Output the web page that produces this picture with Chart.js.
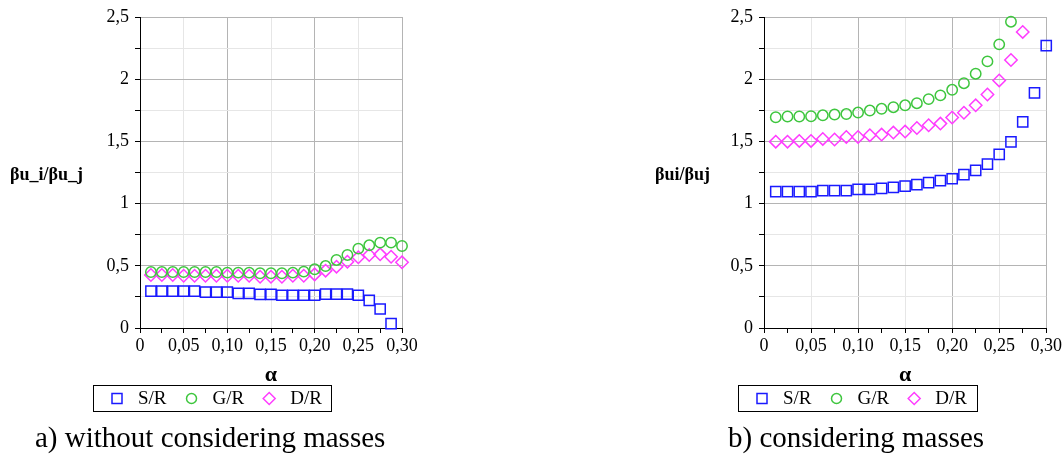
<!DOCTYPE html>
<html>
<head>
<meta charset="utf-8">
<script src="https://cdn.jsdelivr.net/npm/chart.js@4.4.1/dist/chart.umd.min.js"></script>
</head>
<body style="margin:0;background:#fff;width:1064px;height:457px;overflow:hidden;position:relative;font-family:'Liberation Serif'">
<div style="position:absolute;left:0px;top:0px"><canvas id="chartA" width="420" height="457"></canvas></div>
<div style="position:absolute;left:625px;top:0px"><canvas id="chartB" width="439" height="457"></canvas></div>
<script>
// alpha values (x)
var alphaValues = [0.0125, 0.025, 0.0375, 0.05, 0.0625, 0.075, 0.0875, 0.1, 0.1125, 0.125, 0.1375, 0.15,
                   0.1625, 0.175, 0.1875, 0.2, 0.2125, 0.225, 0.2375, 0.25, 0.2625, 0.275, 0.2875, 0.3];

// a) without considering masses
var noMassSR = [0.297, 0.297, 0.297, 0.297, 0.297, 0.289, 0.289, 0.289, 0.279, 0.279, 0.271, 0.271,
                0.263, 0.263, 0.263, 0.263, 0.273, 0.273, 0.273, 0.263, 0.222, 0.153, 0.035];
var noMassGR = [0.45, 0.45, 0.45, 0.45, 0.45, 0.45, 0.45, 0.445, 0.445, 0.445, 0.44, 0.44,
                0.44, 0.445, 0.453, 0.472, 0.498, 0.547, 0.587, 0.638, 0.665, 0.686, 0.686, 0.659];
var noMassDR = [0.426, 0.426, 0.426, 0.42, 0.42, 0.42, 0.42, 0.42, 0.42, 0.42, 0.412, 0.412,
                0.412, 0.42, 0.42, 0.431, 0.461, 0.493, 0.533, 0.568, 0.587, 0.592, 0.573, 0.528];

// b) considering masses
var massSR = [1.096, 1.096, 1.096, 1.096, 1.104, 1.104, 1.104, 1.114, 1.114, 1.122, 1.13, 1.141,
              1.152, 1.168, 1.184, 1.2, 1.233, 1.267, 1.318, 1.396, 1.496, 1.657, 1.89, 2.27];
var massGR = [1.694, 1.7, 1.7, 1.702, 1.71, 1.716, 1.72, 1.732, 1.748, 1.762, 1.775, 1.79,
              1.807, 1.84, 1.87, 1.915, 1.968, 2.044, 2.143, 2.28, 2.462];
var massDR = [1.498, 1.498, 1.504, 1.504, 1.52, 1.515, 1.536, 1.536, 1.55, 1.555, 1.571, 1.579,
              1.608, 1.63, 1.643, 1.692, 1.73, 1.79, 1.877, 1.99, 2.154, 2.38];

var seriesNames = ['S/R', 'G/R', 'D/R'];
var seriesColors = ['#1a1aff', '#3ec63e', '#ff3cff'];
var seriesStyles = ['rect', 'circle', 'rectRot'];
var seriesRadius = [7.2, 5.2, 6.2];

var serif = 'Liberation Serif';
Chart.defaults.font.family = serif;
Chart.defaults.color = '#000';

function toPoints(values) {
    var pts = [];
    for (var i = 0; i < values.length; i++) {
        pts.push({ x: alphaValues[i], y: values[i] });
    }
    return pts;
}

function makeDatasets(lists) {
    return lists.map(function(values, i) {
        return {
            label: seriesNames[i],
            data: toPoints(values),
            showLine: false,
            pointStyle: seriesStyles[i],
            pointRadius: seriesRadius[i],
            pointBorderWidth: 1.5,
            borderColor: seriesColors[i],
            backgroundColor: 'rgba(0,0,0,0)',
            pointBackgroundColor: 'rgba(0,0,0,0)',
            clip: false
        };
    });
}

// legend in a frame, y title written flat, caption under the chart
var extraText = {
    id: 'extraText',
    afterDraw: function(chart, args, opts) {
        var ctx = chart.ctx;
        ctx.save();
        // y title
        ctx.fillStyle = '#000';
        ctx.font = 'bold 18px ' + serif;
        ctx.textAlign = 'left';
        ctx.textBaseline = 'alphabetic';
        ctx.fillText(opts.yTitle, opts.yTitleX, 180);
        // caption
        ctx.font = '29px ' + serif;
        ctx.fillText(opts.caption, opts.captionX, 447);
        // legend
        var box = opts.legend;
        ctx.strokeStyle = '#000';
        ctx.lineWidth = 1;
        ctx.strokeRect(box.left + 0.5, box.top + 0.5, box.width, box.height);
        var cy = box.top + box.height / 2 + 0.5;
        var cx = box.left + 24;
        ctx.font = '19px ' + serif;
        ctx.textBaseline = 'middle';
        chart.data.datasets.forEach(function(ds) {
            ctx.strokeStyle = ds.borderColor;
            ctx.lineWidth = 1.5;
            ctx.beginPath();
            if (ds.pointStyle === 'rect') {
                ctx.rect(cx - 5, cy - 5, 10, 10);
            } else if (ds.pointStyle === 'circle') {
                ctx.arc(cx, cy, 5, 0, Math.PI * 2);
            } else {
                ctx.moveTo(cx - 6, cy);
                ctx.lineTo(cx, cy - 6);
                ctx.lineTo(cx + 6, cy);
                ctx.lineTo(cx, cy + 6);
                ctx.closePath();
            }
            ctx.stroke();
            ctx.fillStyle = '#000';
            ctx.fillText(ds.label, cx + 21, cy + 1);
            cx += 21 + ctx.measureText(ds.label).width + 25;
        });
        ctx.restore();
    }
};

function makeChart(canvasId, lists, yAxisWidth, padRight, textOpts) {
    return new Chart(document.getElementById(canvasId), {
        type: 'scatter',
        data: { datasets: makeDatasets(lists) },
        options: {
            responsive: false,
            animation: false,
            layout: { padding: { left: 0, right: padRight, top: 17, bottom: 42 } },
            plugins: {
                legend: { display: false },
                tooltip: { enabled: false },
                extraText: textOpts
            },
            scales: {
                x: {
                    type: 'linear',
                    min: 0,
                    max: 0.3,
                    afterFit: function(scale) { scale.height = 87; },
                    border: { color: '#000', width: 1 },
                    grid: {
                        color: function(c) {
                            var k = Math.round(c.tick.value / 0.025);
                            if (k % 4 === 0) return '#b4b4b4';
                            if (k % 2 === 0) return '#e6e6e6';
                            return 'rgba(0,0,0,0)';
                        },
                        tickColor: '#000',
                        tickLength: 5
                    },
                    ticks: {
                        stepSize: 0.025,
                        maxTicksLimit: 30,
                        autoSkip: false,
                        maxRotation: 0,
                        padding: 2,
                        color: '#000',
                        font: { family: serif, size: 18 },
                        callback: function(v) {
                            var k = Math.round(v / 0.025);
                            if (k % 2 !== 0) return '';
                            if (k === 0) return '0';
                            return v.toFixed(2).replace('.', ',');
                        }
                    },
                    title: {
                        display: true,
                        text: 'α',
                        color: '#000',
                        font: { family: serif, size: 22, weight: 'bold' },
                        padding: { top: 0, bottom: 26 }
                    }
                },
                y: {
                    type: 'linear',
                    min: 0,
                    max: 2.5,
                    afterFit: function(scale) { scale.width = yAxisWidth; },
                    border: { color: '#000', width: 1 },
                    grid: {
                        color: function(c) {
                            var k = Math.round(c.tick.value * 4);
                            return k % 2 === 0 ? '#b4b4b4' : '#e6e6e6';
                        },
                        tickColor: '#000',
                        tickLength: 5
                    },
                    ticks: {
                        stepSize: 0.25,
                        maxTicksLimit: 30,
                        autoSkip: false,
                        padding: 6,
                        color: '#000',
                        font: { family: serif, size: 18 },
                        callback: function(v) {
                            var k = Math.round(v * 4);
                            if (k % 2 !== 0) return '';
                            return String(k / 4).replace('.', ',');
                        }
                    }
                }
            }
        },
        plugins: [extraText]
    });
}

makeChart('chartA', [noMassSR, noMassGR, noMassDR], 140, 18, {
    yTitle: 'βu_i/βu_j', yTitleX: 10,
    caption: 'a) without considering masses', captionX: 35,
    legend: { left: 93, top: 385, width: 238, height: 26 }
});
makeChart('chartB', [massSR, massGR, massDR], 139, 17, {
    yTitle: 'βui/βuj', yTitleX: 30,
    caption: 'b) considering masses', captionX: 103,
    legend: { left: 113, top: 385, width: 239, height: 26 }
});
</script>
</body>
</html>
